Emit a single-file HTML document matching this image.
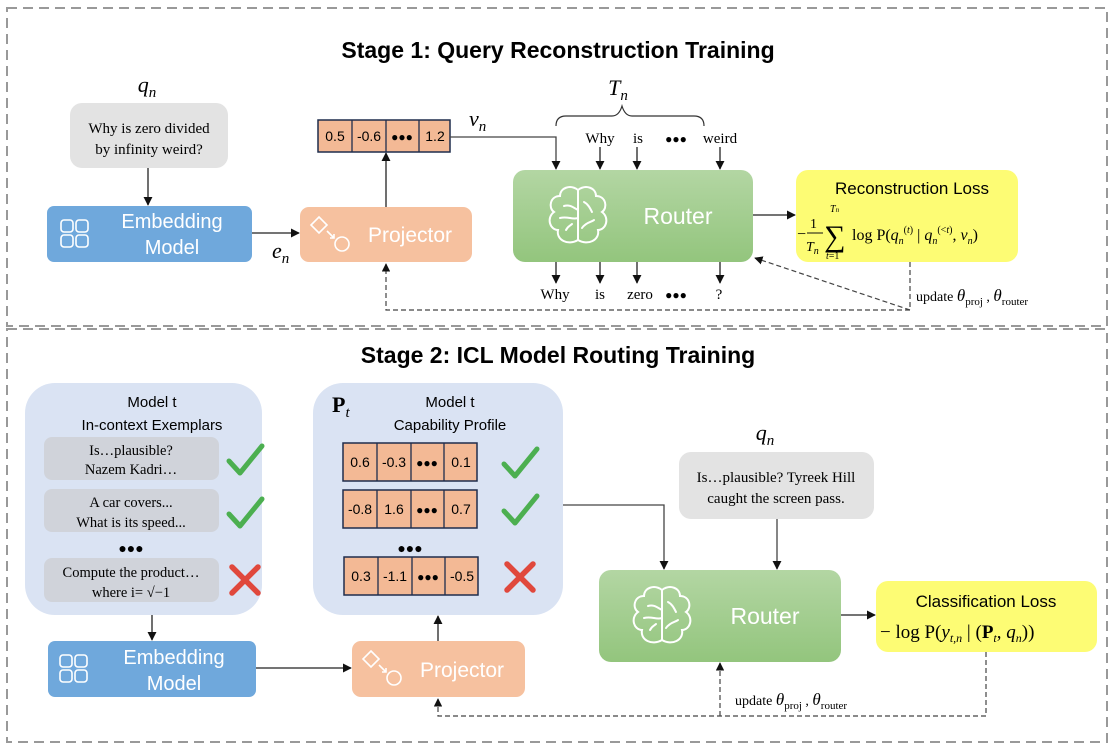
<!DOCTYPE html>
<html><head><meta charset="utf-8"><style>
body{margin:0;background:#fff;}
svg{display:block;}
.hand{font-family:"Comic Sans MS","Liberation Sans",sans-serif;}
.ser{font-family:"Liberation Serif",serif;}
.sans{font-family:"Liberation Sans",sans-serif;}
</style></head><body>
<svg width="1116" height="747" viewBox="0 0 1116 747" xmlns="http://www.w3.org/2000/svg">
<defs>
<marker id="a" viewBox="0 0 10 10" refX="9" refY="5" markerWidth="7" markerHeight="7" orient="auto"><path d="M0,0 L10,5 L0,10 z" fill="#111"/></marker>
<linearGradient id="g" x1="0" y1="0" x2="0" y2="1"><stop offset="0" stop-color="#b3d6a3"/><stop offset="1" stop-color="#93c57d"/></linearGradient>
<g id="brain" fill="none" stroke="#fff" stroke-width="2" stroke-linecap="round">
<path d="M0,-26 C-8,-32 -18,-28 -18,-20 C-28,-20 -30,-8 -24,-4 C-32,2 -28,14 -20,14 C-22,24 -10,30 0,24 Z"/>
<path d="M0,-26 C8,-32 18,-28 18,-20 C28,-20 30,-8 24,-4 C32,2 28,14 20,14 C22,24 10,30 0,24"/>
<path d="M-14,-10 C-8,-12 -4,-8 0,-6 M-18,2 C-10,0 -6,4 0,2 M6,-14 C10,-12 12,-8 14,-4 M4,12 C8,6 14,6 16,4 M-12,14 C-10,10 -8,10 -6,8"/>
</g>
<g id="emb" fill="none" stroke="#fff" stroke-width="1.6"><rect x="0" y="0" width="12" height="12" rx="3"/><rect x="15" y="0" width="12" height="12" rx="3"/><rect x="0" y="15" width="12" height="12" rx="3"/><rect x="15" y="15" width="12" height="12" rx="3"/></g>
<g id="proj" fill="none" stroke="#fff" stroke-width="1.6"><path d="M8,0 L16,8 L8,16 L0,8 Z"/><path d="M16,14 L23,21 M19,21 L23,21 L23,17"/><circle cx="31" cy="27" r="7"/></g>
<g id="chk"><path d="M-16,2 L-5,14 L17,-13" fill="none" stroke="#4caf50" stroke-width="5" stroke-linecap="round" stroke-linejoin="round"/></g>
<g id="crs" stroke="#e0483c" stroke-width="5.5" stroke-linecap="round"><path d="M-13,-13 L13,13 M13,-13 L-13,13"/></g>
</defs>

<rect x="7" y="8" width="1100" height="318" fill="none" stroke="#999" stroke-width="2" stroke-dasharray="10,6"/>
<rect x="7" y="329" width="1100" height="413" fill="none" stroke="#999" stroke-width="2" stroke-dasharray="10,6"/>

<text x="558" y="58" text-anchor="middle" class="sans" font-weight="bold" font-size="23">Stage 1: Query Reconstruction Training</text>
<text x="558" y="363" text-anchor="middle" class="sans" font-weight="bold" font-size="23">Stage 2: ICL Model Routing Training</text>

<!-- Stage 1 -->
<text x="147" y="92" text-anchor="middle" class="ser" font-style="italic" font-size="22">q<tspan font-size="15" dy="5">n</tspan></text>
<rect x="70" y="103" width="158" height="65" rx="12" fill="#e3e3e3"/>
<text x="149" y="133" text-anchor="middle" class="ser" font-size="15">Why is zero divided</text>
<text x="149" y="154" text-anchor="middle" class="ser" font-size="15">by infinity weird?</text>
<line x1="148" y1="168" x2="148" y2="205" stroke="#222" stroke-width="1.3" marker-end="url(#a)"/>

<rect x="47" y="206" width="205" height="56" rx="7" fill="#6fa8dc"/>
<use href="#emb" x="61" y="220"/>
<text x="172" y="228" text-anchor="middle" class="hand" fill="#fff" font-size="20">Embedding</text>
<text x="172" y="254" text-anchor="middle" class="hand" fill="#fff" font-size="20">Model</text>
<line x1="252" y1="233" x2="299" y2="233" stroke="#222" stroke-width="1.3" marker-end="url(#a)"/>
<text x="272" y="258" class="ser" font-style="italic" font-size="22">e<tspan font-size="15" dy="5">n</tspan></text>

<rect x="300" y="207" width="172" height="55" rx="9" fill="#f6c19f"/>
<use href="#proj" x="311" y="217"/>
<text x="410" y="242" text-anchor="middle" class="hand" fill="#fff" font-size="21">Projector</text>
<line x1="386" y1="207" x2="386" y2="153" stroke="#222" stroke-width="1.3" marker-end="url(#a)"/>

<g class="sans" font-size="14" text-anchor="middle">
<rect x="318" y="120" width="132" height="32" fill="#f3b995" stroke="#1f2d4d" stroke-width="1.5"/>
<line x1="352" y1="120" x2="352" y2="152" stroke="#1f2d4d" stroke-width="1.3"/><line x1="386" y1="120" x2="386" y2="152" stroke="#1f2d4d" stroke-width="1.3"/><line x1="419" y1="120" x2="419" y2="152" stroke="#1f2d4d" stroke-width="1.3"/>
<text x="335" y="141">0.5</text><text x="369" y="141">-0.6</text><text x="402" y="141" font-size="12">●●●</text><text x="435" y="141">1.2</text>
</g>
<text x="469" y="126" class="ser" font-style="italic" font-size="22">v<tspan font-size="15" dy="5">n</tspan></text>
<polyline points="450,137 556,137 556,169" fill="none" stroke="#444" stroke-width="1.3" marker-end="url(#a)"/>

<text x="618" y="95" text-anchor="middle" class="ser" font-style="italic" font-size="22">T<tspan font-size="15" dy="5">n</tspan></text>
<path d="M556,126 Q556,116 566,116 L612,116 Q619,116 622,106 Q625,116 632,116 L694,116 Q704,116 704,126" fill="none" stroke="#333" stroke-width="1.2"/>
<g class="ser" font-size="15" text-anchor="middle">
<text x="600" y="143">Why</text><text x="638" y="143">is</text><text x="676" y="143" font-size="12">●●●</text><text x="720" y="143">weird</text>
<text x="555" y="299">Why</text><text x="600" y="299">is</text><text x="640" y="299">zero</text><text x="676" y="299" font-size="12">●●●</text><text x="719" y="299">?</text>
</g>
<g stroke="#222" stroke-width="1.3">
<line x1="600" y1="147" x2="600" y2="169" marker-end="url(#a)"/><line x1="637" y1="147" x2="637" y2="169" marker-end="url(#a)"/><line x1="720" y1="147" x2="720" y2="169" marker-end="url(#a)"/>
<line x1="556" y1="262" x2="556" y2="283" marker-end="url(#a)"/><line x1="600" y1="262" x2="600" y2="283" marker-end="url(#a)"/><line x1="637" y1="262" x2="637" y2="283" marker-end="url(#a)"/><line x1="720" y1="262" x2="720" y2="283" marker-end="url(#a)"/>
</g>
<rect x="513" y="170" width="240" height="92" rx="12" fill="url(#g)"/>
<use href="#brain" x="578" y="216"/>
<text x="678" y="224" text-anchor="middle" class="hand" fill="#fff" font-size="23">Router</text>
<line x1="753" y1="215" x2="795" y2="215" stroke="#222" stroke-width="1.3" marker-end="url(#a)"/>

<rect x="796" y="170" width="222" height="92" rx="12" fill="#fdfc74"/>
<text x="912" y="194" text-anchor="middle" class="hand" font-size="17">Reconstruction Loss</text>
<g class="ser" font-size="16">
<text x="797" y="239">−</text>
<text x="810" y="228" font-size="14">1</text><line x1="807" y1="233" x2="823" y2="233" stroke="#111"/><text x="806" y="251" font-style="italic" font-size="14">T<tspan font-size="10" dy="3">n</tspan></text>
<text x="824" y="246" font-size="30">∑</text>
<text x="830" y="212" font-style="italic" font-size="10">T<tspan font-size="7">n</tspan></text>
<text x="826" y="259" font-size="10"><tspan font-style="italic">t</tspan>=1</text>
<text x="852" y="240">log P(<tspan font-style="italic">q</tspan><tspan font-size="10" dy="4" font-style="italic">n</tspan><tspan font-size="10" dy="-11">(<tspan font-style="italic">t</tspan>)</tspan><tspan dy="7"> | </tspan><tspan font-style="italic">q</tspan><tspan font-size="10" dy="4" font-style="italic">n</tspan><tspan font-size="10" dy="-11">(&lt;<tspan font-style="italic">t</tspan>)</tspan><tspan dy="7">, </tspan><tspan font-style="italic">v</tspan><tspan font-size="10" dy="4" font-style="italic">n</tspan><tspan dy="-4">)</tspan></text>
</g>
<g fill="none" stroke="#444" stroke-width="1.2" stroke-dasharray="5,3">
<polyline points="910,262 910,310 386,310 386,264" marker-end="url(#a)"/>
<line x1="910" y1="310" x2="755" y2="258" marker-end="url(#a)"/>
</g>
<text x="916" y="301" class="ser" font-size="14">update <tspan font-style="italic" font-size="17">θ</tspan><tspan font-size="11" dy="4">proj</tspan><tspan dy="-4"> , </tspan><tspan font-style="italic" font-size="17">θ</tspan><tspan font-size="11" dy="4">router</tspan></text>

<!-- Stage 2 -->
<rect x="25" y="383" width="237" height="232" rx="30" fill="#dae3f3"/>
<text x="152" y="407" text-anchor="middle" class="sans" font-size="15">Model t</text>
<text x="152" y="430" text-anchor="middle" class="sans" font-size="15">In-context Exemplars</text>
<g class="ser" font-size="14.5" text-anchor="middle">
<rect x="44" y="437" width="175" height="43" rx="8" fill="#d0d3da"/>
<text x="131" y="455">Is…plausible?</text><text x="131" y="474">Nazem Kadri…</text>
<rect x="44" y="489" width="175" height="43" rx="8" fill="#d0d3da"/>
<text x="131" y="507">A car covers...</text><text x="131" y="527">What is its speed...</text>
<text x="131" y="553" class="sans" font-size="14">●●●</text>
<rect x="44" y="558" width="175" height="44" rx="8" fill="#d0d3da"/>
<text x="131" y="577">Compute the product…</text><text x="131" y="597">where i= √−1</text>
</g>
<use href="#chk" x="245" y="459"/><use href="#chk" x="245" y="512"/><use href="#crs" x="245" y="580"/>
<line x1="152" y1="615" x2="152" y2="640" stroke="#222" stroke-width="1.3" marker-end="url(#a)"/>

<rect x="313" y="383" width="250" height="232" rx="30" fill="#dae3f3"/>
<text x="332" y="412" class="ser" font-weight="bold" font-size="22">P<tspan font-weight="normal" font-style="italic" font-size="15" dy="5">t</tspan></text>
<text x="450" y="407" text-anchor="middle" class="sans" font-size="15">Model t</text>
<text x="450" y="430" text-anchor="middle" class="sans" font-size="15">Capability Profile</text>
<g class="sans" font-size="14" text-anchor="middle" stroke-width="1.3">
<g><rect x="343" y="443" width="134" height="38" fill="#f3b995" stroke="#1f2d4d" stroke-width="1.5"/>
<path d="M377,443 V481 M411,443 V481 M444,443 V481" stroke="#1f2d4d"/>
<text x="360" y="467">0.6</text><text x="394" y="467">-0.3</text><text x="427" y="467" font-size="12">●●●</text><text x="461" y="467">0.1</text></g>
<g><rect x="343" y="490" width="134" height="38" fill="#f3b995" stroke="#1f2d4d" stroke-width="1.5"/>
<path d="M377,490 V528 M411,490 V528 M444,490 V528" stroke="#1f2d4d"/>
<text x="360" y="514">-0.8</text><text x="394" y="514">1.6</text><text x="427" y="514" font-size="12">●●●</text><text x="461" y="514">0.7</text></g>
<text x="410" y="553" font-size="14">●●●</text>
<g><rect x="344" y="557" width="134" height="38" fill="#f3b995" stroke="#1f2d4d" stroke-width="1.5"/>
<path d="M378,557 V595 M412,557 V595 M445,557 V595" stroke="#1f2d4d"/>
<text x="361" y="581">0.3</text><text x="395" y="581">-1.1</text><text x="428" y="581" font-size="12">●●●</text><text x="462" y="581">-0.5</text></g>
</g>
<use href="#chk" x="520" y="462"/><use href="#chk" x="520" y="509"/><use href="#crs" x="520" y="577"/>

<rect x="48" y="641" width="208" height="56" rx="7" fill="#6fa8dc"/>
<use href="#emb" x="60" y="655"/>
<text x="174" y="664" text-anchor="middle" class="hand" fill="#fff" font-size="20">Embedding</text>
<text x="174" y="690" text-anchor="middle" class="hand" fill="#fff" font-size="20">Model</text>
<line x1="256" y1="668" x2="351" y2="668" stroke="#222" stroke-width="1.3" marker-end="url(#a)"/>

<rect x="352" y="641" width="173" height="56" rx="9" fill="#f6c19f"/>
<use href="#proj" x="363" y="651"/>
<text x="462" y="677" text-anchor="middle" class="hand" fill="#fff" font-size="21">Projector</text>
<line x1="438" y1="641" x2="438" y2="616" stroke="#222" stroke-width="1.3" marker-end="url(#a)"/>

<text x="765" y="440" text-anchor="middle" class="ser" font-style="italic" font-size="22">q<tspan font-size="15" dy="5">n</tspan></text>
<rect x="679" y="452" width="195" height="67" rx="12" fill="#e3e3e3"/>
<text x="776" y="482" text-anchor="middle" class="ser" font-size="15">Is…plausible? Tyreek Hill</text>
<text x="776" y="503" text-anchor="middle" class="ser" font-size="15">caught the screen pass.</text>
<polyline points="563,505 664,505 664,569" fill="none" stroke="#444" stroke-width="1.3" marker-end="url(#a)"/>
<line x1="777" y1="519" x2="777" y2="569" stroke="#444" stroke-width="1.3" marker-end="url(#a)"/>

<rect x="599" y="570" width="242" height="92" rx="12" fill="url(#g)"/>
<use href="#brain" x="662" y="616"/>
<text x="765" y="624" text-anchor="middle" class="hand" fill="#fff" font-size="23">Router</text>
<line x1="841" y1="615" x2="875" y2="615" stroke="#222" stroke-width="1.3" marker-end="url(#a)"/>

<rect x="876" y="581" width="221" height="71" rx="12" fill="#fdfc74"/>
<text x="986" y="607" text-anchor="middle" class="hand" font-size="17">Classification Loss</text>
<text x="880" y="638" class="ser" font-size="19">− log P(<tspan font-style="italic">y</tspan><tspan font-size="12" font-style="italic" dy="4">t,n</tspan><tspan dy="-4"> | (</tspan><tspan font-weight="bold">P</tspan><tspan font-size="12" font-style="italic" dy="4">t</tspan><tspan dy="-4">, </tspan><tspan font-style="italic">q</tspan><tspan font-size="12" font-style="italic" dy="4">n</tspan><tspan dy="-4">))</tspan></text>

<g fill="none" stroke="#444" stroke-width="1.2" stroke-dasharray="5,3">
<polyline points="986,652 986,716 438,716 438,699" marker-end="url(#a)"/>
<line x1="720" y1="716" x2="720" y2="663" marker-end="url(#a)"/>
</g>
<text x="735" y="705" class="ser" font-size="14">update <tspan font-style="italic" font-size="17">θ</tspan><tspan font-size="11" dy="4">proj</tspan><tspan dy="-4"> , </tspan><tspan font-style="italic" font-size="17">θ</tspan><tspan font-size="11" dy="4">router</tspan></text>
</svg>
</body></html>
